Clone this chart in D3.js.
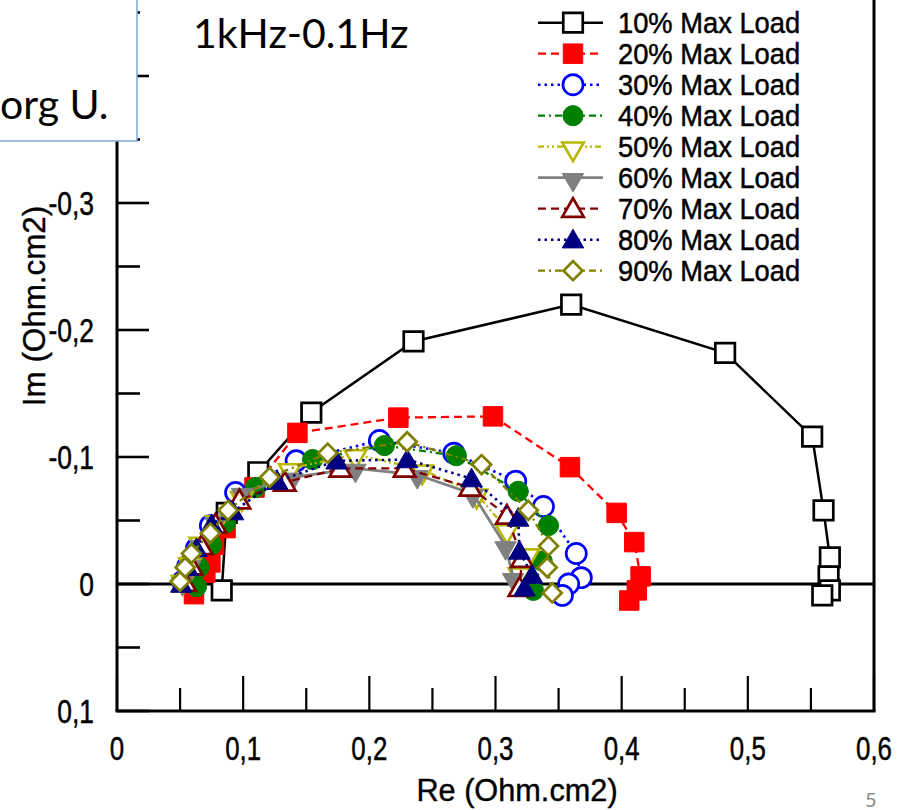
<!DOCTYPE html>
<html>
<head>
<meta charset="utf-8">
<script src="https://cdn.jsdelivr.net/npm/d3@7"></script>
<style>
  html, body { margin: 0; padding: 0; background: #fff; overflow: hidden; }
  svg { display: block; }
</style>
</head>
<body>
<div id="chart"></div>
<script>
// series labels
const loads = ['10% Max Load', '20% Max Load', '30% Max Load', '40% Max Load', '50% Max Load',
  '60% Max Load', '70% Max Load', '80% Max Load', '90% Max Load'];

// [Re, Im] in Ohm.cm2
const load10 = [[0.083, 0.005], [0.087, -0.056], [0.112, -0.088], [0.154, -0.135], [0.235, -0.191],
  [0.360, -0.220], [0.482, -0.182], [0.551, -0.116], [0.560, -0.058], [0.565, -0.021],
  [0.564, -0.006], [0.565, 0.005], [0.559, 0.009]];
const load20 = [[0.061, 0.008], [0.070, -0.009], [0.074, -0.017], [0.077, -0.031], [0.086, -0.044],
  [0.109, -0.076], [0.143, -0.119], [0.223, -0.131], [0.298, -0.132], [0.359, -0.092],
  [0.396, -0.056], [0.410, -0.033], [0.415, -0.006], [0.412, 0.005], [0.406, 0.013]];
const load30 = [[0.052, -0.002], [0.056, -0.014], [0.063, -0.028], [0.074, -0.046], [0.094, -0.072],
  [0.142, -0.097], [0.208, -0.113], [0.267, -0.103], [0.316, -0.081], [0.338, -0.061],
  [0.364, -0.024], [0.368, -0.005], [0.358, 0.000], [0.353, 0.009]];
const load40 = [[0.063, 0.002], [0.065, -0.013], [0.075, -0.031], [0.086, -0.048], [0.110, -0.076],
  [0.155, -0.098], [0.212, -0.109], [0.269, -0.101], [0.318, -0.073], [0.342, -0.046],
  [0.337, -0.018], [0.330, 0.005]];
const load50 = [[0.052, -0.003], [0.058, -0.017], [0.066, -0.033], [0.079, -0.050], [0.099, -0.069],
  [0.137, -0.091], [0.189, -0.102], [0.242, -0.090], [0.285, -0.071], [0.309, -0.043],
  [0.326, -0.024], [0.319, -0.009]];
const load60 = [[0.052, -0.002], [0.058, -0.015], [0.066, -0.031], [0.078, -0.049], [0.099, -0.072],
  [0.139, -0.084], [0.189, -0.091], [0.238, -0.086], [0.282, -0.071], [0.308, -0.030],
  [0.314, -0.005]];
const load70 = [[0.054, -0.001], [0.059, -0.014], [0.067, -0.030], [0.078, -0.047], [0.097, -0.066],
  [0.133, -0.080], [0.177, -0.091], [0.228, -0.091], [0.280, -0.076], [0.309, -0.054],
  [0.321, -0.020], [0.319, 0.003]];
const load80 = [[0.051, 0.000], [0.056, -0.013], [0.063, -0.028], [0.075, -0.047], [0.092, -0.057],
  [0.127, -0.081], [0.174, -0.097], [0.230, -0.098], [0.281, -0.083], [0.318, -0.052],
  [0.319, -0.026], [0.329, -0.007], [0.323, 0.003]];
const load90 = [[0.050, -0.002], [0.054, -0.013], [0.059, -0.024], [0.074, -0.040], [0.088, -0.058],
  [0.121, -0.084], [0.167, -0.103], [0.230, -0.112], [0.289, -0.094], [0.326, -0.058],
  [0.342, -0.030], [0.341, -0.013], [0.345, 0.007]];

const allSeries = [load10, load20, load30, load40, load50, load60, load70, load80, load90];

// axis ticks
const xTicks = [0, 0.1, 0.2, 0.3, 0.4, 0.5, 0.6];
const xTickLabels = ['0', '0,1', '0,2', '0,3', '0,4', '0,5', '0,6'];
const yTicks = [0.1, 0, -0.1, -0.2, -0.3];
const yTickLabels = ['0,1', '0', '-0,1', '-0,2', '-0,3'];

// look of each series (same order as loads)
const styles = [
  { color: '#000000', dash: null, width: 2.5, shape: 'square', fill: false },
  { color: '#ff0000', dash: '8,5', width: 2.3, shape: 'square', fill: true },
  { color: '#0000ff', dash: '2.5,4', width: 2.6, shape: 'circle', fill: false },
  { color: '#008000', dash: '7,4,2,4', width: 2.3, shape: 'circle', fill: true },
  { color: '#b8b800', dash: '6,3,2,3,2,3', width: 2.3, shape: 'tridown', fill: false },
  { color: '#808080', dash: null, width: 2.8, shape: 'tridown', fill: true },
  { color: '#800000', dash: '8,5', width: 2.3, shape: 'triup', fill: false },
  { color: '#000080', dash: '2.5,4', width: 2.6, shape: 'triup', fill: true },
  { color: '#808000', dash: '7,4,2,4', width: 2.3, shape: 'diamond', fill: false }
];

const W = 917, H = 810;
const svg = d3.select('#chart').append('svg').attr('width', W).attr('height', H);

const x = d3.scaleLinear().domain([0, 0.6]).range([117, 874]);
const y = d3.scaleLinear().domain([0.1, -0.3]).range([711, 203]);
const yTop = -0.47;

const font = '"Liberation Sans", Arial, sans-serif';

// squeeze a text horizontally (the original fonts are narrow)
function squeeze(sel, k) {
  sel.each(function () {
    const w = this.getComputedTextLength();
    d3.select(this).attr('textLength', w * k).attr('lengthAdjust', 'spacingAndGlyphs');
  });
}

function symbolPath(shape) {
  if (shape === 'square') return d3.symbol(d3.symbolSquare, 380)();
  if (shape === 'circle') return d3.symbol(d3.symbolCircle, 320)();
  if (shape === 'diamond') return d3.symbol(d3.symbolSquare, 180)();
  return d3.symbol(d3.symbolTriangle, 200)();
}
function symbolRot(shape) {
  if (shape === 'tridown') return 180;
  if (shape === 'diamond') return 45;
  return 0;
}
function drawMarker(g, px, py, st) {
  g.append('path')
    .attr('d', symbolPath(st.shape))
    .attr('transform', `translate(${px},${py}) rotate(${symbolRot(st.shape)})` + (st.shape === 'tridown' ? ' translate(0,-2)' : st.shape === 'triup' ? ' translate(0,2)' : ''))
    .attr('fill', st.fill ? st.color : '#fff')
    .attr('stroke', st.color)
    .attr('stroke-width', st.fill ? 1 : 2.7);
}

// frame
const frame = svg.append('g').attr('stroke', '#000').attr('fill', 'none');
frame.append('line').attr('x1', x(0)).attr('x2', x(0)).attr('y1', y(yTop)).attr('y2', y(0.1)).attr('stroke-width', 3);
frame.append('line').attr('x1', x(0.6)).attr('x2', x(0.6)).attr('y1', y(yTop)).attr('y2', y(0.1)).attr('stroke-width', 3);
frame.append('line').attr('x1', x(0) - 1.5).attr('x2', x(0.6) + 1.5).attr('y1', y(0.1)).attr('y2', y(0.1)).attr('stroke-width', 3);
// zero line
frame.append('line').attr('x1', x(0)).attr('x2', x(0.6)).attr('y1', y(0)).attr('y2', y(0)).attr('stroke-width', 2.8);

// x ticks (inward, major every 0.1, minor every 0.05)
d3.range(0, 0.6001, 0.05).forEach((v, i) => {
  const len = i % 2 === 0 ? 35 : 23;
  frame.append('line').attr('x1', x(v)).attr('x2', x(v))
    .attr('y1', y(0.1)).attr('y2', y(0.1) - len).attr('stroke-width', 2.2);
});
// y ticks
d3.range(0.1, yTop - 0.001, -0.05).forEach((v, i) => {
  const len = i % 2 === 0 ? 32 : 23;
  frame.append('line').attr('x1', x(0)).attr('x2', x(0) + len)
    .attr('y1', y(v)).attr('y2', y(v)).attr('stroke-width', 2.6);
});

// tick labels
const xl = svg.append('g').selectAll('text').data(xTicks).join('text')
  .attr('x', d => x(d)).attr('y', 760)
  .attr('text-anchor', 'middle')
  .attr('font-family', font).attr('font-size', 34)
  .attr('stroke', '#000').attr('stroke-width', 0.5)
  .text((d, i) => xTickLabels[i]);
squeeze(xl, 0.76);

const yl = svg.append('g').selectAll('text').data(yTicks).join('text')
  .attr('x', 94).attr('y', d => y(d) + 12)
  .attr('text-anchor', 'end')
  .attr('font-family', font).attr('font-size', 33)
  .attr('stroke', '#000').attr('stroke-width', 0.5)
  .text((d, i) => yTickLabels[i]);
squeeze(yl, 0.8);

// axis titles
const xt = svg.append('text').attr('x', 517).attr('y', 801).attr('text-anchor', 'middle')
  .attr('font-family', font).attr('font-size', 31)
  .attr('stroke', '#000').attr('stroke-width', 0.4).text('Re (Ohm.cm2)');
squeeze(xt, 0.99);
const yt = svg.append('text').attr('transform', 'translate(45,306) rotate(-90)').attr('text-anchor', 'middle')
  .attr('font-family', font).attr('font-size', 32)
  .attr('stroke', '#000').attr('stroke-width', 0.4).text('Im (Ohm.cm2)');
squeeze(yt, 0.98);

// series
const line = d3.line().x(d => x(d[0])).y(d => y(d[1]));
allSeries.forEach((data, i) => {
  const st = styles[i];
  const g = svg.append('g');
  g.append('path').datum(data).attr('d', line)
    .attr('fill', 'none').attr('stroke', st.color).attr('stroke-width', st.width)
    .attr('stroke-dasharray', st.dash);
  data.forEach(d => drawMarker(g, x(d[0]), y(d[1]), st));
});

// legend
const leg = svg.append('g');
loads.forEach((name, i) => {
  const st = styles[i];
  const cy = 22.7 + i * 31;
  leg.append('line').attr('x1', 538).attr('x2', 603).attr('y1', cy).attr('y2', cy)
    .attr('stroke', st.color).attr('stroke-width', st.width).attr('stroke-dasharray', st.dash);
  drawMarker(leg, 573, cy, st);
  const t = leg.append('text').attr('x', 618).attr('y', cy + 10.5)
    .attr('font-family', font).attr('font-size', 30)
    .attr('stroke', '#000').attr('stroke-width', 0.5).text(name);
  squeeze(t, 0.91);
});

// slide overlay: text box and frequency range
svg.append('rect').attr('x', -10).attr('y', -10).attr('width', 147).attr('height', 151)
  .attr('fill', '#fff').attr('stroke', '#7ea6d8').attr('stroke-width', 1.5);
svg.append('text').attr('x', 0).attr('y', 119)
  .attr('font-family', 'Lato, "Open Sans", sans-serif').attr('font-size', 41).text('org U.');
svg.append('text').attr('x', 193).attr('y', 48)
  .attr('font-family', 'Lato, "Open Sans", sans-serif').attr('font-size', 41).text('1kHz-0.1Hz');
svg.append('text').attr('x', 865).attr('y', 807).attr('fill', '#8a8a8a')
  .attr('font-family', 'Lato, "Open Sans", sans-serif').attr('font-size', 20).text('5');
</script>
</body>
</html>
